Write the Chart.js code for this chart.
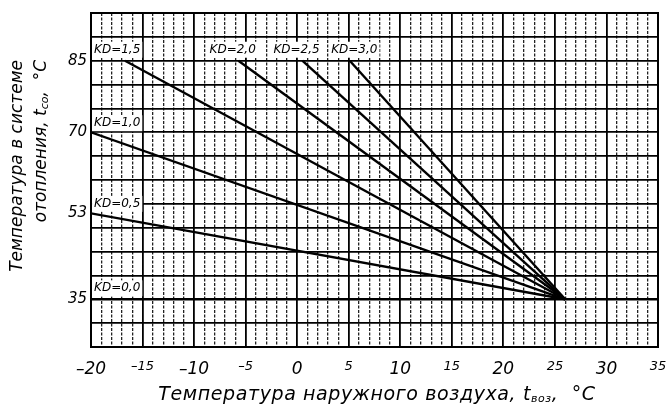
<!DOCTYPE html>
<html lang="ru">
<head>
<meta charset="utf-8">
<title>Температурный график</title>
<script src="https://cdn.jsdelivr.net/npm/chart.js@4.4.1/dist/chart.umd.min.js"></script>
<style>
  html, body { margin: 0; padding: 0; background: #fff; }
</style>
</head>
<body>
<canvas id="myChart" width="667" height="407"></canvas>
<script>
// Прямые KD: точка начала и точка конца
const kdLabels = ['KD=0,0', 'KD=0,5', 'KD=1,0', 'KD=1,5', 'KD=2,0', 'KD=2,5', 'KD=3,0'];
const startX = [-20, -20, -20, -16.7, -5.7, 0.5, 5.1];
const startY = [35, 53, 70, 85, 85, 85, 85];
const endX = [35, 26, 26, 26, 26, 26, 26];
const endY = [35, 35, 35, 35, 35, 35, 35];

// Подписи осей
const xTicks = [-20, -15, -10, -5, 0, 5, 10, 15, 20, 25, 30, 35];
const yTicks = [35, 53, 70, 85];
const yGrid = [25, 30, 35, 40, 45, 50, 55, 60, 65, 70, 75, 80, 85, 90, 95];

// Где стоят подписи KD (в единицах осей)
const kdLabelX = [-19.8, -19.8, -19.8, -19.8, -8.6, -2.4, 3.2];
const kdLabelY = [37.3, 55, 71.9, 87.3, 87.3, 87.3, 87.3];

const FONT = "'DejaVu Sans', sans-serif";

function drawParts(c, parts, x, y) {
    let cx = x;
    for (const p of parts) {
        c.font = 'italic ' + p[1] + 'px ' + FONT;
        c.fillText(p[0], cx, y + (p[2] || 0));
        cx += c.measureText(p[0]).width;
    }
}
function partsWidth(c, parts) {
    let w = 0;
    for (const p of parts) {
        c.font = 'italic ' + p[1] + 'px ' + FONT;
        w += c.measureText(p[0]).width;
    }
    return w;
}

// Рамка, подписи KD и названия осей
const extras = {
    id: 'extras',
    afterDatasetsDraw(chart) {
        const c = chart.ctx;
        const a = chart.chartArea;
        const sx = chart.scales.x;
        const sy = chart.scales.y;
        c.save();
        c.strokeStyle = '#000';
        c.lineWidth = 2;
        c.strokeRect(a.left, a.top, a.right - a.left, a.bottom - a.top);

        c.font = 'italic 12px ' + FONT;
        c.textBaseline = 'middle';
        kdLabels.forEach((t, i) => {
            const px = sx.getPixelForValue(kdLabelX[i]);
            const py = sy.getPixelForValue(kdLabelY[i]);
            const w = c.measureText(t).width;
            c.fillStyle = '#fff';
            c.fillRect(px - 1, py - 8, w + 4, 16);
            c.fillStyle = '#000';
            c.fillText(t, px + 1, py);
        });

        c.textBaseline = 'alphabetic';
        c.fillStyle = '#000';
        c.letterSpacing = '0.6px';
        const xTitle = [['Температура наружного воздуха, t', 19], ['воз', 11, 2], [',  °С', 19]];
        drawParts(c, xTitle, 377 - partsWidth(c, xTitle) / 2, 400);
        c.letterSpacing = '0px';

        const yLine1 = [['Температура в системе', 17]];
        const yLine2 = [['отопления, t', 17], ['со', 11, 2], [',  °С', 17]];
        [[yLine1, 22], [yLine2, 46]].forEach(([parts, bx]) => {
            c.save();
            c.translate(bx, 0);
            c.rotate(-Math.PI / 2);
            drawParts(c, parts, -60 - partsWidth(c, parts), 0);
            c.restore();
        });
        c.restore();
    }
};

const ctx = document.getElementById('myChart');
new Chart(ctx, {
    type: 'scatter',
    data: {
        datasets: kdLabels.map((label, i) => ({
            label: label,
            data: [{ x: startX[i], y: startY[i] }, { x: endX[i], y: endY[i] }],
            showLine: true,
            borderColor: '#000',
            borderWidth: 2.4,
            pointRadius: 0,
            fill: false
        }))
    },
    options: {
        responsive: false,
        animation: false,
        layout: { padding: { top: 10, right: 9, left: 0, bottom: 0 } },
        plugins: {
            legend: { display: false },
            tooltip: { enabled: false }
        },
        scales: {
            x: {
                type: 'linear',
                position: 'bottom',
                min: -20,
                max: 35,
                afterBuildTicks: s => { s.ticks = xTicks.map(v => ({ value: v })); },
                afterFit: s => { s.height = 60; s.paddingLeft = 0; s.paddingRight = 0; },
                grid: { color: '#000', lineWidth: 1.8, drawTicks: false },
                border: { color: '#000', width: 2 },
                ticks: {
                    padding: 12,
                    color: '#000',
                    autoSkip: false,
                    maxRotation: 0,
                    font: c => ({
                        family: FONT,
                        style: 'italic',
                        size: c.tick && c.tick.value % 10 === 0 ? 17 : 13
                    }),
                    callback: v => String(v).replace('-', '–')
                }
            },
            xMinor: {
                type: 'linear',
                position: 'top',
                min: -20,
                max: 35,
                afterFit: s => { s.height = 0; s.paddingLeft = 0; s.paddingRight = 0; },
                grid: {
                    color: c => c.tick && c.tick.value % 5 === 0 ? 'rgba(0,0,0,0)' : '#222',
                    lineWidth: 1.3,
                    drawTicks: false
                },
                border: { display: false, dash: [3, 1.5] },
                ticks: { display: false, stepSize: 1 }
            },
            y: {
                type: 'linear',
                min: 25,
                max: 95,
                afterBuildTicks: s => {
                    s.ticks = yGrid.concat([53]).sort((a, b) => a - b).map(v => ({ value: v }));
                },
                afterFit: s => { s.width = 91; },
                grid: {
                    color: c => c.tick && yGrid.includes(c.tick.value) ? '#000' : 'rgba(0,0,0,0)',
                    lineWidth: 1.8,
                    drawTicks: false
                },
                border: { color: '#000', width: 2 },
                ticks: {
                    padding: 4,
                    color: '#000',
                    autoSkip: false,
                    font: { family: FONT, style: 'italic', size: 15 },
                    callback: v => yTicks.includes(v) ? String(v) : ''
                }
            }
        }
    },
    plugins: [extras]
});
</script>
</body>
</html>
